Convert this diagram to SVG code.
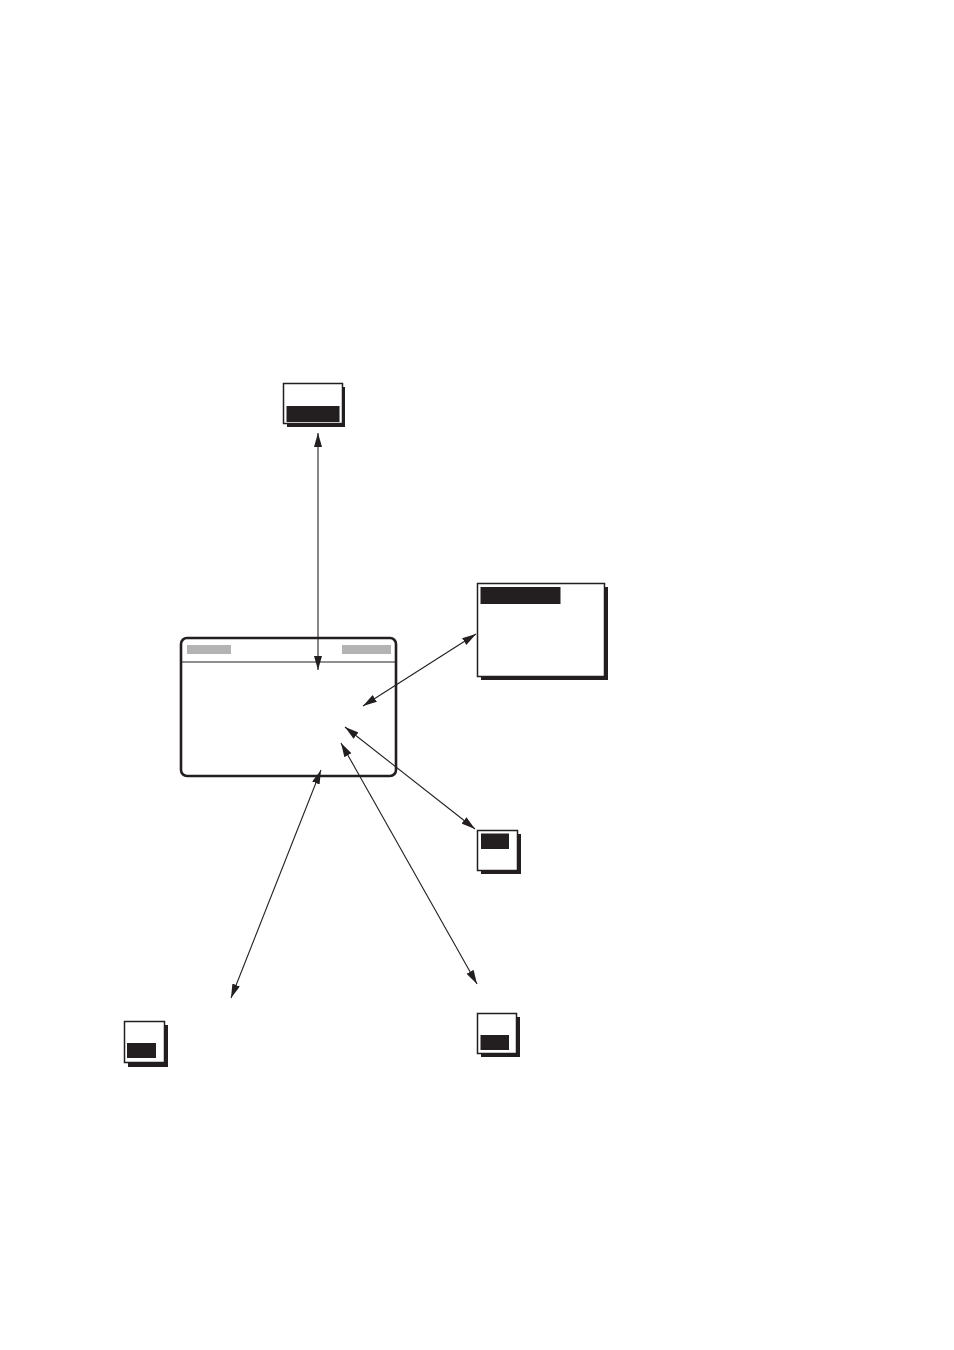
<svg xmlns="http://www.w3.org/2000/svg" width="954" height="1350" viewBox="0 0 954 1350">
<style>
.frame{fill:#fff;stroke:#231f20;stroke-width:1.5}
.shadow{fill:#231f20}
.bar{fill:#231f20}
.gray{fill:#b3b3b3}
.conn{stroke:#231f20;stroke-width:1.1;fill:none;marker-start:url(#ah);marker-end:url(#ah)}
</style>
<defs>
<marker id="ah" viewBox="0 0 14 8" refX="14" refY="4" markerWidth="14" markerHeight="8" markerUnits="userSpaceOnUse" orient="auto-start-reverse">
<path d="M0,0 L14,4 L0,8 Z" fill="#231f20"/>
</marker>
</defs>
<rect width="954" height="1350" fill="#fff"/>
<g id="main">
<rect x="181" y="638" width="215" height="138" rx="6" fill="#fff" stroke="#231f20" stroke-width="2.6"/>
<line x1="181" y1="662" x2="396" y2="662" stroke="#231f20" stroke-width="1.2"/>
<rect class="gray" x="187" y="645" width="44" height="9"/>
<rect class="gray" x="342" y="645" width="49" height="9"/>
</g>
<g id="connectors">
<line class="conn" x1="318" y1="433" x2="318" y2="670"/>
<line class="conn" x1="363" y1="706" x2="476" y2="634"/>
<line class="conn" x1="345" y1="727" x2="475" y2="829"/>
<line class="conn" x1="321" y1="770" x2="231" y2="998"/>
<line class="conn" x1="341" y1="743" x2="477" y2="984"/>
</g>
<g id="node-top">
<rect class="shadow" x="287" y="387" width="58" height="40"/>
<rect class="frame" x="283.5" y="383.5" width="59" height="40"/>
<rect class="bar" x="286.5" y="406" width="53" height="16"/>
</g>
<g id="node-right">
<rect class="shadow" x="481" y="587" width="127" height="93"/>
<rect class="frame" x="477.5" y="583.5" width="127" height="93"/>
<rect class="bar" x="480.5" y="587" width="80" height="17"/>
</g>
<g id="node-mid">
<rect class="shadow" x="481" y="834" width="40" height="40"/>
<rect class="frame" x="477.5" y="830.5" width="40" height="40"/>
<rect class="bar" x="481" y="833.5" width="28" height="15.5"/>
</g>
<g id="node-bottom-left">
<rect class="shadow" x="128" y="1025" width="40" height="42"/>
<rect class="frame" x="124.5" y="1021.5" width="40" height="41"/>
<rect class="bar" x="127" y="1043" width="29" height="15"/>
</g>
<g id="node-bottom-right">
<rect class="shadow" x="481" y="1017" width="39" height="40"/>
<rect class="frame" x="477.5" y="1013.5" width="39" height="40"/>
<rect class="bar" x="480.5" y="1035" width="28.5" height="15"/>
</g>
</svg>
